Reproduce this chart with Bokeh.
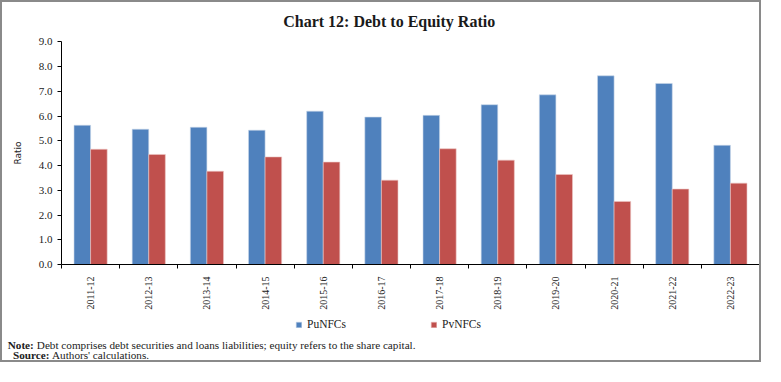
from bokeh.plotting import figure
from bokeh.models import (ColumnDataSource, Range1d, LinearAxis, FixedTicker, Label, Legend,
                          LegendItem, NumeralTickFormatter)
from bokeh.transform import dodge
from bokeh.embed import file_html
from bokeh.resources import INLINE
from math import pi

years = ["2011-12", "2012-13", "2013-14", "2014-15", "2015-16", "2016-17",
         "2017-18", "2018-19", "2019-20", "2020-21", "2021-22", "2022-23"]
punfcs = [5.63, 5.47, 5.55, 5.43, 6.20, 5.96, 6.03, 6.46, 6.86, 7.63, 7.32, 4.82]
pvnfcs = [4.66, 4.45, 3.77, 4.35, 4.14, 3.41, 4.68, 4.22, 3.64, 2.55, 3.05, 3.29]
y_ticks = [0, 1, 2, 3, 4, 5, 6, 7, 8, 9]

title_text = "Chart 12: Debt to Equity Ratio"
note_label = "Note:"
note_text = "Debt comprises debt securities and loans liabilities; equity refers to the share capital."
source_label = "Source:"
source_text = "Authors' calculations."

SERIF = "Liberation Serif"
BLUE = "#4F81BD"
RED = "#C0504D"
TXT = "#222222"

# canvas geometry (the 2px border is drawn outside the canvas)
W, H = 761, 362
PLOT_L, PLOT_R = 59, 757          # plot area left/right
Y0_PX, Y9_PX = 262, 39.4          # pixel rows of y=0 and y=9
n = len(years)
cat_px = (PLOT_R - PLOT_L) / n
ypx = (Y0_PX - Y9_PX) / 9.0

def dx(c):
    return (c - PLOT_L) / cat_px

def dy(c):
    return (Y0_PX - c) / ypx

centers = [i + 0.5 for i in range(n)]
bounds_ticks = [i for i in range(n + 1)]
src = ColumnDataSource(dict(year=years, xc=centers, pu=punfcs, pv=pvnfcs))

p = figure(width=W, height=H, x_range=Range1d(dx(0), dx(W)), y_range=Range1d(dy(H), dy(0)),
           output_backend="svg", toolbar_location=None, x_axis_location=None,
           y_axis_location=None, min_border=0)
p.title.visible = False
p.outline_line_color = None
p.xgrid.visible = False
p.ygrid.visible = False
p.background_fill_color = "white"
p.border_fill_color = "white"
p.styles = {"border": "2px solid #8a8a8a"}

r_pu = p.vbar(x=dodge("xc", -0.1425), top="pu", width=0.285, source=src,
              fill_color=BLUE, line_color="#c9d6ea", line_width=0.6)
r_pv = p.vbar(x=dodge("xc", 0.1425), top="pv", width=0.285, source=src,
              fill_color=RED, line_color="#ecc6c5", line_width=0.6)

# y axis
ya = LinearAxis(ticker=FixedTicker(ticks=y_ticks, minor_ticks=[]),
                formatter=NumeralTickFormatter(format="0.0"))
ya.fixed_location = 0
ya.bounds = (0, 9)
ya.minor_tick_line_color = None
ya.major_tick_in = 0
ya.major_tick_out = 4
ya.major_label_standoff = 5
ya.major_label_text_font = SERIF
ya.major_label_text_font_size = "11px"
ya.major_label_text_color = TXT
ya.axis_line_color = "black"
ya.major_tick_line_color = "black"
ya.axis_label = "Ratio"
ya.axis_label_text_font = "DejaVu Sans"
ya.axis_label_text_font_style = "normal"
ya.axis_label_text_font_size = "9px"
ya.axis_label_text_color = TXT
ya.axis_label_standoff = 13
p.add_layout(ya, "left")

# x axis: labels at category centres, tick marks at category boundaries
xa = LinearAxis(ticker=FixedTicker(ticks=centers, minor_ticks=bounds_ticks))
xa.major_label_overrides = {c: y for c, y in zip(centers, years)}
xa.fixed_location = 0
xa.bounds = (0, n)
xa.major_tick_line_color = None
xa.minor_tick_in = 0
xa.minor_tick_out = 4
xa.minor_tick_line_color = "black"
xa.axis_line_color = "black"
xa.major_label_orientation = pi / 2
xa.major_label_standoff = 6
xa.major_label_text_font = SERIF
xa.major_label_text_font_size = "10px"
xa.major_label_text_color = TXT
p.add_layout(xa, "below")

# title
p.add_layout(Label(x=dx(386.7), y=dy(18.5), text=title_text, text_font=SERIF,
                   text_font_style="bold", text_font_size="16px", text_align="center",
                   text_baseline="middle", text_color="#1a1a1a"))

legend = Legend(items=[LegendItem(label="PuNFCs", renderers=[r_pu]),
                       LegendItem(label="PvNFCs", renderers=[r_pv])],
                location=(293, 34), orientation="horizontal", padding=0, margin=0,
                spacing=84, glyph_width=7, glyph_height=7, label_standoff=5, label_height=12,
                label_text_font=SERIF, label_text_font_size="11.5px", label_text_color=TXT,
                border_line_color=None, background_fill_alpha=0)
p.add_layout(legend, "center")

# notes
for txt, cx, cy, bold, align in [(note_label, 31.3, 342, True, "right"),
                                 (note_text, 34.3, 342, False, "left"),
                                 (source_label, 47, 352.5, True, "right"),
                                 (source_text, 49.5, 352.5, False, "left")]:
    p.add_layout(Label(x=dx(cx), y=dy(cy), text=txt, text_font=SERIF,
                       text_font_style="bold" if bold else "normal", text_font_size="11.2px",
                       text_align=align, text_baseline="middle", text_color=TXT))

open("out.html", "w").write(file_html(p, INLINE))
